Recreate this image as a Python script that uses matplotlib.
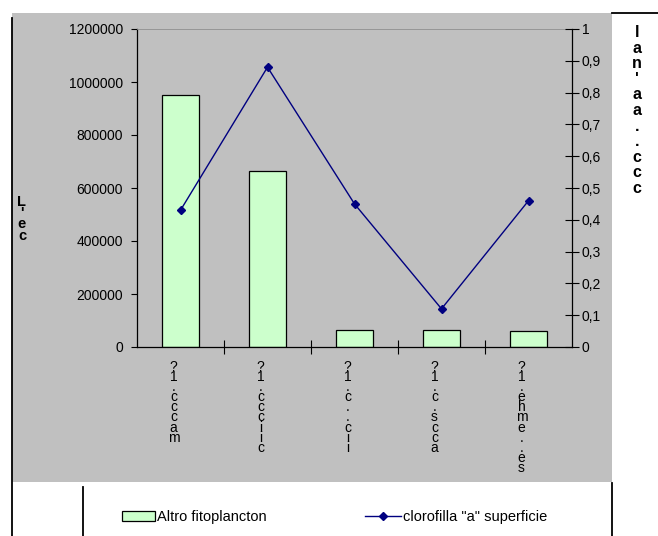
import numpy as np
import matplotlib.pyplot as plt
from matplotlib.patches import Rectangle
from matplotlib.lines import Line2D

plt.rcParams['font.family'] = ['Liberation Sans', 'DejaVu Sans']

# stacked (vertical) station labels
stations = ['?1.ccc am', '?1.cccii c', '?1.c..cii', '?1.c.scca', '?1.ehme..es']
altro = [950000, 665000, 65000, 65000, 60000]
clorofilla = [0.43, 0.88, 0.45, 0.12, 0.46]
left_ticks = [0, 200000, 400000, 600000, 800000, 1000000, 1200000]
right_ticks = [0, 0.1, 0.2, 0.3, 0.4, 0.5, 0.6, 0.7, 0.8, 0.9, 1]
right_labels = ['0', '0,1', '0,2', '0,3', '0,4', '0,5', '0,6', '0,7', '0,8', '0,9', '1']

W, H = 658, 536
fig = plt.figure(figsize=(W / 100, H / 100), dpi=100)
fig.patch.set_facecolor('white')

def fx(px):
    return px / W

def fy(py):
    return 1 - py / H

# gray chart area
fig.patches.append(Rectangle((fx(12), fy(482)), fx(612) - fx(12), fy(13) - fy(482),
                             transform=fig.transFigure, facecolor='#c0c0c0',
                             edgecolor='none', zorder=-10))
# table rules around the chart
for xs, ys in [((12, 12), (18, 536)), ((83, 83), (487, 536)),
               ((612, 612), (483, 536)), ((612, 658), (13, 13))]:
    fig.lines.append(Line2D([fx(x) for x in xs], [fy(y) for y in ys],
                            transform=fig.transFigure, color='black', lw=1.3))

ax = fig.add_axes([fx(137), fy(347), fx(572) - fx(137), fy(29) - fy(347)])
ax.set_facecolor('none')
x = np.arange(len(stations))
ax.bar(x, altro, width=0.42, color='#ccffcc', edgecolor='black', linewidth=0.9, zorder=2)
ax.set_xlim(-0.5, len(stations) - 0.5)
ax.set_ylim(0, 1200000)
ax.set_yticks(left_ticks)
ax.set_yticklabels([str(v) for v in left_ticks], fontsize=10)
ax.tick_params(axis='y', direction='out', length=4, width=0.8, pad=6)
ax.set_xticks(np.arange(0.5, len(stations) - 1, 1.0))
ax.set_xticklabels([])
ax.tick_params(axis='x', direction='inout', length=10, width=0.8)
for s in ['left', 'bottom']:
    ax.spines[s].set_linewidth(0.9)
ax.spines['top'].set_color('#909090')
ax.spines['top'].set_linewidth(0.6)
ax.spines['right'].set_visible(False)

for i, lab in enumerate(stations):
    ax.text(i - 0.08, -0.04, '\n'.join(lab.replace(' ', '')), transform=ax.get_xaxis_transform(),
            ha='center', va='top', fontsize=10, linespacing=0.65)

ax2 = ax.twinx()
ax2.plot(x, clorofilla, color='#000080', lw=1.0, marker='D', markersize=4.5, zorder=3)
ax2.set_ylim(0, 1)
ax2.set_yticks(right_ticks)
ax2.set_yticklabels(right_labels, fontsize=10)
ax2.tick_params(axis='y', direction='inout', length=10, width=0.8, pad=2)
ax2.spines['right'].set_linewidth(0.9)
for s in ['left', 'top', 'bottom']:
    ax2.spines[s].set_visible(False)

# axis titles
fig.text(fx(22), fy(195), '\n'.join("L'ec"), ha='center', va='top', fontsize=10.5,
         fontweight='bold', linespacing=0.75)
fig.text(fx(637), fy(25), '\n'.join("la n'aa ..ccc".replace(' ', '')), ha='center', va='top',
         fontsize=11.5, fontweight='bold', linespacing=1.05)

# legend
fig.patches.append(Rectangle((fx(122), fy(521)), fx(155) - fx(122), fy(511) - fy(521),
                             transform=fig.transFigure, facecolor='#ccffcc',
                             edgecolor='black', linewidth=0.9))
fig.text(fx(157), fy(517), 'Altro fitoplancton', ha='left', va='center', fontsize=10.5)
fig.lines.append(Line2D([fx(365), fx(401)], [fy(516), fy(516)], transform=fig.transFigure,
                        color='#000080', lw=1.0))
fig.lines.append(Line2D([fx(383)], [fy(516)], transform=fig.transFigure, color='#000080',
                        marker='D', markersize=4.5, lw=0))
fig.text(fx(403), fy(517), 'clorofilla "a" superficie', ha='left', va='center', fontsize=10.5)

fig.savefig('out.png', dpi=100)
